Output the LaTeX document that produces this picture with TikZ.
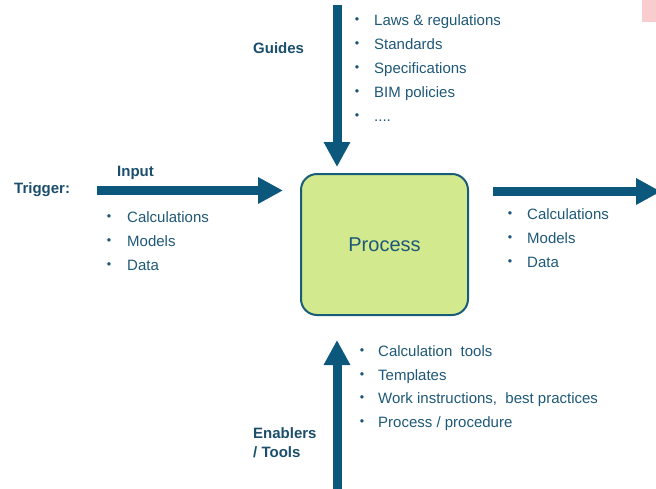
\documentclass[tikz,border=0pt]{standalone}
\usepackage{fontspec}
\setmainfont{Liberation Sans}
\usetikzlibrary{arrows.meta}
\definecolor{flowblue}{RGB}{12,88,124}
\definecolor{labelblue}{RGB}{26,78,108}
\definecolor{itemblue}{RGB}{30,88,120}
\definecolor{procgreen}{RGB}{210,233,141}
\definecolor{procedge}{RGB}{24,92,120}
\definecolor{cornerpink}{RGB}{249,205,205}
\begin{document}
\begin{tikzpicture}[x=1pt,y=-1pt,
  flow/.style={draw=flowblue,line width=9pt,-{Triangle[length=25pt,width=25pt]}},
  procbox/.style={draw=procedge,fill=procgreen,line width=2pt,rounded corners=16pt,
    minimum width=167pt,minimum height=141pt,inner sep=0pt,
    text=itemblue,font=\fontsize{20}{24}\selectfont},
  heading/.style={anchor=base west,inner sep=0pt,text=labelblue,
    font=\fontsize{15}{19}\selectfont\bfseries},
  item/.style={anchor=base west,inner sep=0pt,text=itemblue,
    font=\fontsize{15}{18}\selectfont},
  dot/.style={anchor=base,inner sep=0pt,text=itemblue,yshift=1.2pt,
    font=\fontsize{12.5}{14}\selectfont}]
\useasboundingbox (0,0) rectangle (656,488);
\clip (0,0) rectangle (656,488);

% small marker in the upper right corner
\fill[cornerpink] (642,0) rectangle (656,22);

% central process
\node[procbox] (proc) at (384.5,244.5) {Process};

% connector end points
\coordinate (guideTop) at (337,5);
\coordinate (guideTip) at (337,167);
\coordinate (inStart) at (97,190.5);
\coordinate (inTip) at (283,190.5);
\coordinate (outStart) at (493,191.5);
\coordinate (outTip) at (661,191.5);
\coordinate (toolBottom) at (337,492);
\coordinate (toolTip) at (337,340);

\draw[flow] (guideTop) -- (guideTip);
\draw[flow] (inStart) -- (inTip);
\draw[flow] (outStart) -- (outTip);
\draw[flow] (toolBottom) -- (toolTip);

% labels
\node[heading] (guides) at (253,53) {Guides};
\node[heading] (trigger) at (14,193) {Trigger:};
\node[heading] (input) at (117,176) {Input};
\node[heading] (enablers) at (253,438) {Enablers};
\node[heading] (tools) at (253,457) {/ Tools};

% guides list
\foreach \y/\t [count=\i] in {25/{Laws \& regulations},49/{Standards},73/{Specifications},97/{BIM policies}}{
  \node[dot] (gd\i) at (357,\y) {•};
  \node[item] (gi\i) at (374,\y) {\t};
}
\node[dot] (gd5) at (357,121) {•};
\node[item] (gi5) at (374,121) {....};

% input list
\foreach \y/\t [count=\i] in {222/{Calculations},246/{Models},270/{Data}}{
  \node[dot] (id\i) at (109,\y) {•};
  \node[item] (ii\i) at (127,\y) {\t};
}

% output list
\foreach \y/\t [count=\i] in {219/{Calculations},243/{Models},267/{Data}}{
  \node[dot] (od\i) at (510,\y) {•};
  \node[item] (oi\i) at (527,\y) {\t};
}

% enablers list
\foreach \y/\t [count=\i] in {356/{Calculation~ tools},380/{Templates},403/{Work instructions,~ best practices},427/{Process / procedure}}{
  \node[dot] (td\i) at (362,\y) {•};
  \node[item] (ti\i) at (378,\y) {\t};
}
\end{tikzpicture}
\end{document}
